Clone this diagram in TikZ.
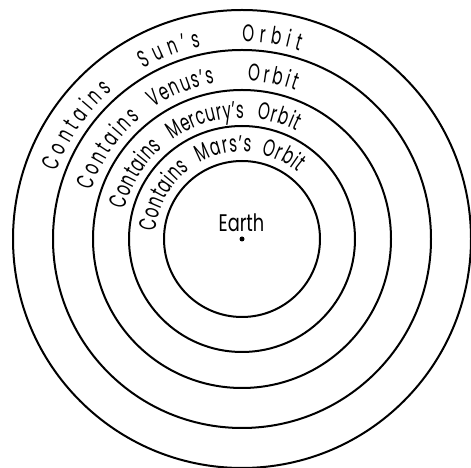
\documentclass[tikz,border=0pt]{standalone}
\usepackage{fontspec}
\setmainfont[FakeStretch=0.63]{Poppins}
\newfontfamily\earthfont[FakeStretch=0.74]{Poppins}
\usetikzlibrary{calc,decorations.text}
\tikzset{
  ring/.style ={draw, line width=2pt},
  word/.style ={decorate, decoration={text along path,
                text align=fit to path, text={|\ringfont|#1}}},
  lbl/.style  ={font=\earthfont\ringfont, inner sep=0pt, anchor=base}
}
\newcommand{\ringfont}{\fontsize{24}{24}\selectfont}
% word #1 on an arc from angle #2 to angle #3, baseline radius #4
\newcommand{\ringword}[4]{\path[word={#1}] ($(c)+(#2:#4pt)$)
  arc[start angle=#2, end angle=#3, radius=#4pt];}

\begin{document}
\begin{tikzpicture}[x=1pt,y=1pt]
  \useasboundingbox (0,0) rectangle (471,468);
  \coordinate (c) at (242,229);
  \foreach \r in {229,189,149,113,78}
    \draw[ring] (c) circle[radius=\r pt];

  % outer band
  \ringword{Contains}{160}{131}{197}
  \ringword{Sun's}{120}{102}{197}
  \ringword{Orbit}{90}{73}{197}
  % second band
  \ringword{Contains}{162}{130}{158}
  \ringword{Venus's}{124}{100}{158}
  \ringword{Orbit}{88}{70}{158}
  % third band
  \ringword{Contains}{166}{131}{121}
  \ringword{Mercury's}{125}{89}{121}
  \ringword{Orbit}{83}{63}{121}
  % fourth band
  \ringword{Contains}{175}{127}{87}
  \ringword{Mars's}{119}{84}{87}
  \ringword{Orbit}{77}{50}{87}

  \node[lbl] (earth) at (241.5,236) {Earth};
  \fill (c) circle[radius=2.5pt];
\end{tikzpicture}
\end{document}
